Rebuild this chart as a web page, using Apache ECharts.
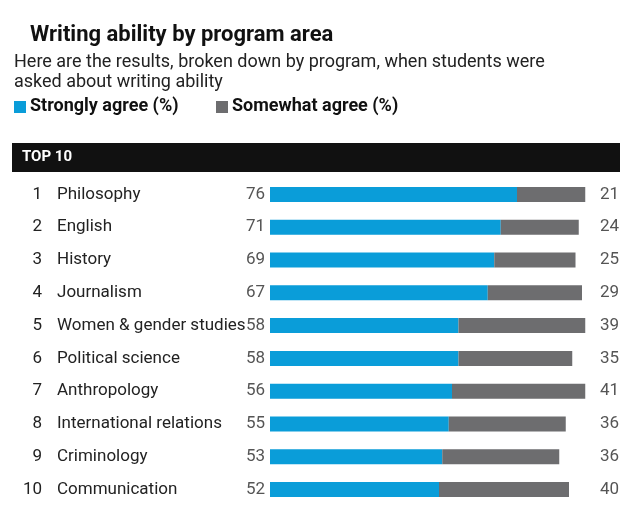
<!DOCTYPE html>
<html>
<head>
<meta charset="utf-8">
<script src="https://cdn.jsdelivr.net/npm/echarts@6/dist/echarts.min.js"></script>
<style>html,body{margin:0;padding:0;background:#fff}#chart{width:633px;height:516px}</style>
</head>
<body>
<div id="chart"></div>
<script>
var programs = ['Philosophy', 'English', 'History', 'Journalism', 'Women & gender studies',
  'Political science', 'Anthropology', 'International relations', 'Criminology', 'Communication'];
var strongly = [76, 71, 69, 67, 58, 58, 56, 55, 53, 52];
var somewhat = [21, 24, 25, 29, 39, 35, 41, 36, 36, 40];

var FONT = "'Liberation Sans Narrow', 'Roboto', sans-serif";
var chart = echarts.init(document.getElementById('chart'));

var cats = programs.map(function (p, i) { return i; });

function catAxis(pos, margin, align, color, fmt) {
  return {
    type: 'category', data: cats, inverse: true, position: pos,
    axisLine: { show: false }, axisTick: { show: false },
    axisLabel: { margin: margin, align: align, fontSize: 17, fontFamily: FONT, color: color, formatter: fmt }
  };
}

chart.setOption({
  animation: false,
  backgroundColor: '#fff',
  graphic: [
    { type: 'text', left: 30, top: 24, style: { text: 'Writing ability by program area', font: 'bold 22px ' + FONT, fill: '#111' } },
    { type: 'text', left: 14, top: 52, style: { text: 'Here are the results, broken down by program, when students were\nasked about writing ability', font: '18px ' + FONT, fill: '#222', lineHeight: 20 } },
    { type: 'rect', shape: { x: 14, y: 101, width: 12, height: 12 }, style: { fill: '#0a9dd9' } },
    { type: 'text', left: 30, top: 97, style: { text: 'Strongly agree (%)', font: 'bold 18px ' + FONT, fill: '#111' } },
    { type: 'rect', shape: { x: 216, y: 101, width: 12, height: 12 }, style: { fill: '#6d6d6f' } },
    { type: 'text', left: 232, top: 97, style: { text: 'Somewhat agree (%)', font: 'bold 18px ' + FONT, fill: '#111' } },
    { type: 'rect', shape: { x: 12, y: 143, width: 608, height: 29 }, style: { fill: '#111' } },
    { type: 'text', left: 22, top: 150, style: { text: 'TOP 10', font: 'bold 15px ' + FONT, fill: '#fff' } }
  ],
  grid: { left: 270, right: 38, top: 178, bottom: 10 },
  xAxis: { type: 'value', min: 0, max: 100, show: false },
  yAxis: [
    catAxis('left', 5, 'right', '#555', function (v) { return strongly[+v]; }),
    catAxis('left', 228, 'right', '#222', function (v) { return +v + 1; }),
    catAxis('left', 213, 'left', '#222', function (v) { return programs[+v]; }),
    catAxis('right', 5, 'left', '#555', function (v) { return somewhat[+v]; })
  ],
  series: [
    { name: 'Strongly agree (%)', type: 'bar', stack: 'a', data: strongly, barWidth: 15, itemStyle: { color: '#0a9dd9' } },
    { name: 'Somewhat agree (%)', type: 'bar', stack: 'a', data: somewhat, barWidth: 15, itemStyle: { color: '#6d6d6f' } }
  ]
});
</script>
</body>
</html>
